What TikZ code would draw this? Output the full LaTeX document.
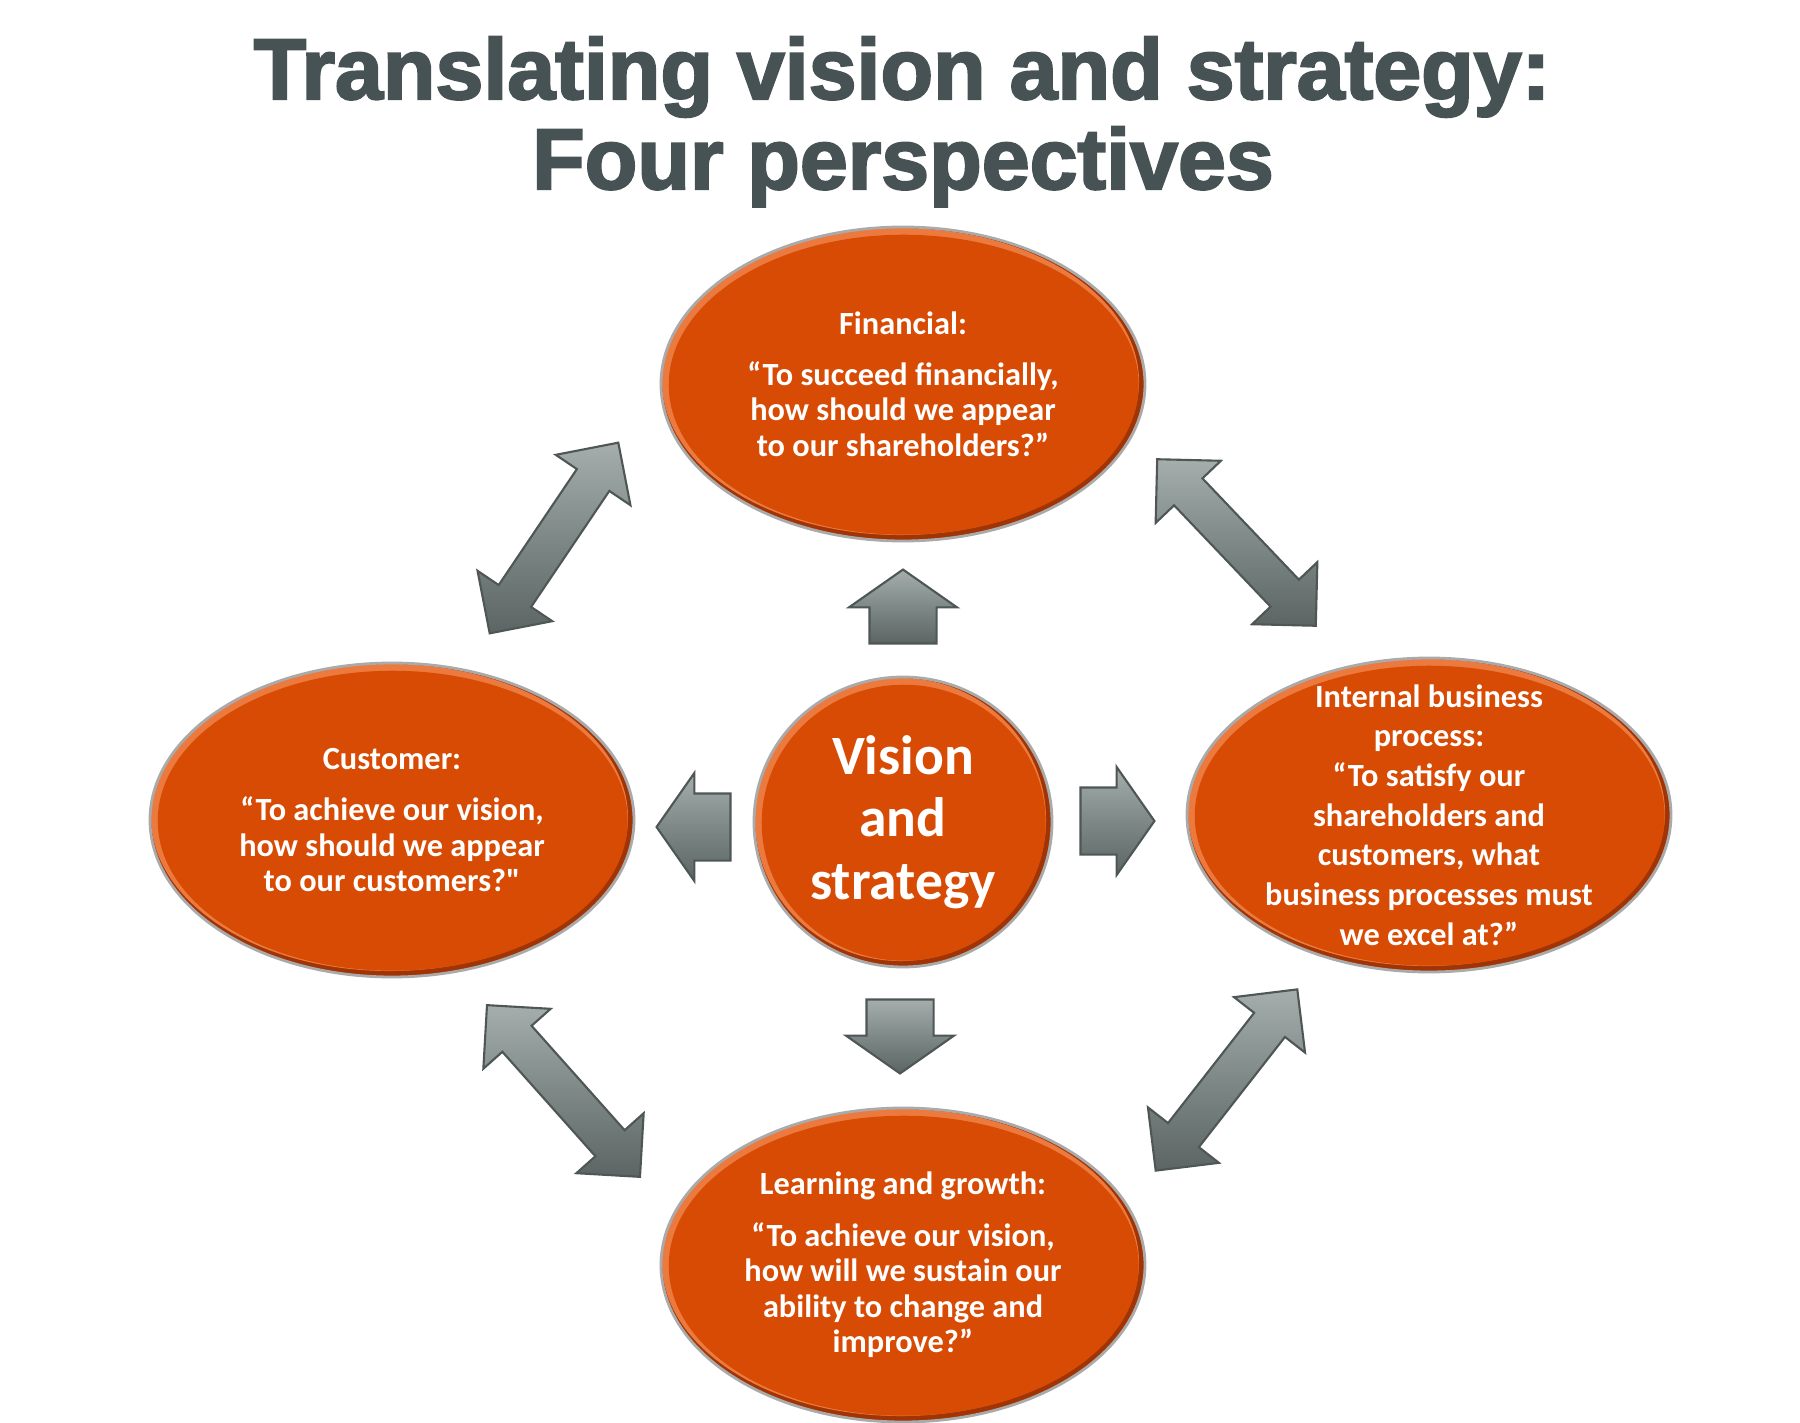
\documentclass[tikz,border=0pt]{standalone}
\usepackage{fontspec}
\usepackage{tikz}
\usetikzlibrary{shapes.geometric, shapes.arrows, calc}
\newfontfamily\titlefont{Liberation Sans Bold}[FakeBold=2.5]
\newfontfamily\bubblefont{Carlito}
\definecolor{persorange}{RGB}{215,75,5}
\definecolor{perslight}{RGB}{236,122,62}
\definecolor{persdark}{RGB}{160,52,4}
\definecolor{rimgrey}{RGB}{170,170,170}
\definecolor{arrowgrey}{RGB}{125,136,135}
\definecolor{arrowlight}{RGB}{165,174,173}
\definecolor{arrowdark}{RGB}{92,101,100}
\definecolor{arrowline}{RGB}{78,86,86}
\definecolor{titlegrey}{RGB}{70,82,84}

\begin{document}
\begin{tikzpicture}[
  bubble/.style={ellipse, inner sep=0pt, minimum width=4.84cm, minimum height=3.14cm,
    fill=persdark, draw=rimgrey, line width=0.8pt,
    path picture={
      \fill[perslight] let \p1=(path picture bounding box.north east), \p2=(path picture bounding box.center)
        in (\p2) ++(-0.7pt,0.7pt) ellipse [x radius={\x1-\x2-1pt}, y radius={\y1-\y2-1pt}];
      \fill[persorange] let \p1=(path picture bounding box.north east), \p2=(path picture bounding box.center)
        in (\p2) ++(0.2pt,-0.2pt) ellipse [x radius={\x1-\x2-2pt}, y radius={\y1-\y2-2pt}];
    }},
  bubbletext/.style={text=white, align=center, inner sep=0pt,
    font=\bubblefont\bfseries\fontsize{9.2}{10.1}\selectfont},
  titletext/.style={text=titlegrey, anchor=base, inner sep=0pt,
    font=\titlefont\fontsize{24.5}{29}\selectfont},
  arrowbase/.style={top color=arrowlight, bottom color=arrowdark, middle color=arrowgrey,
    draw=arrowline, line width=0.6pt, inner xsep=0pt},
  block/.style={arrowbase, single arrow, anchor=tail, inner ysep=0.325cm, minimum height=0.74cm,
    minimum width=1.06cm, single arrow head extend=0.205cm, single arrow tip angle=110, single arrow head indent=0pt},
  link/.style={arrowbase, double arrow, inner ysep=0.185cm, minimum height=2.30cm, minimum width=0.88cm,
    double arrow head extend=0.255cm, double arrow tip angle=90},
]
  \useasboundingbox (0,0) rectangle (18,-14.23);
  % title
  \node[titletext] (title) at (9.02,-0.99) {Translating vision and strategy:};
  \node[titletext] (subtitle) at (9.03,-1.89) {Four perspectives};
  % perspective ellipses
  \foreach \n/\x/\y in {fin/9.03/-3.84, cust/3.92/-8.20, intern/14.29/-8.15, learn/9.03/-12.65}
    \node[bubble] (\n) at (\x,\y) {};
  % centre circle
  \node[bubble, minimum width=2.98cm, minimum height=2.90cm] (vision) at (9.03,-8.22) {};
  % texts
  \node[bubbletext] (finText) at (fin) {Financial:\\[4.5pt]“To succeed financially,\\how should we appear\\to our shareholders?”};
  \node[bubbletext] (custText) at (cust) {Customer:\\[4.5pt]“To achieve our vision,\\how should we appear\\to our customers?\textquotedbl};
  \node[bubbletext, font=\bubblefont\bfseries\fontsize{9.2}{11.3}\selectfont] (internText) at (intern)
    {Internal business\\process:\\“To satisfy our\\shareholders and\\customers, what\\business processes must\\we excel at?”};
  \node[bubbletext] (learnText) at (learn) {Learning and growth:\\[4.5pt]“To achieve our vision,\\how will we sustain our\\ability to change and\\improve?”};
  \node[bubbletext, font=\bubblefont\bfseries\fontsize{15.8}{17.8}\selectfont] (visionText) at (vision) {Vision\\and\\strategy};
  % block arrows out of the centre
  \node[block, rotate=90] (upArr) at ($(vision.north)+(0,0.31)$) {};
  \node[block, rotate=-90] (downArr) at ($(vision.south)+(-0.03,-0.30)$) {};
  \node[block, rotate=180] (leftArr) at ($(vision.west)+(-0.21,-0.05)$) {};
  \node[block] (rightArr) at ($(vision.east)+(0.26,0.01)$) {};
  % double arrows between perspectives
  \foreach \n/\x/\y/\a in {linkTL/5.54/-5.38/56, linkTR/12.365/-5.425/-46.4, linkBL/5.635/-10.91/-48.3, linkBR/12.265/-10.80/52}
    \node[link, rotate=\a] (\n) at (\x,\y) {};
\end{tikzpicture}
\end{document}
